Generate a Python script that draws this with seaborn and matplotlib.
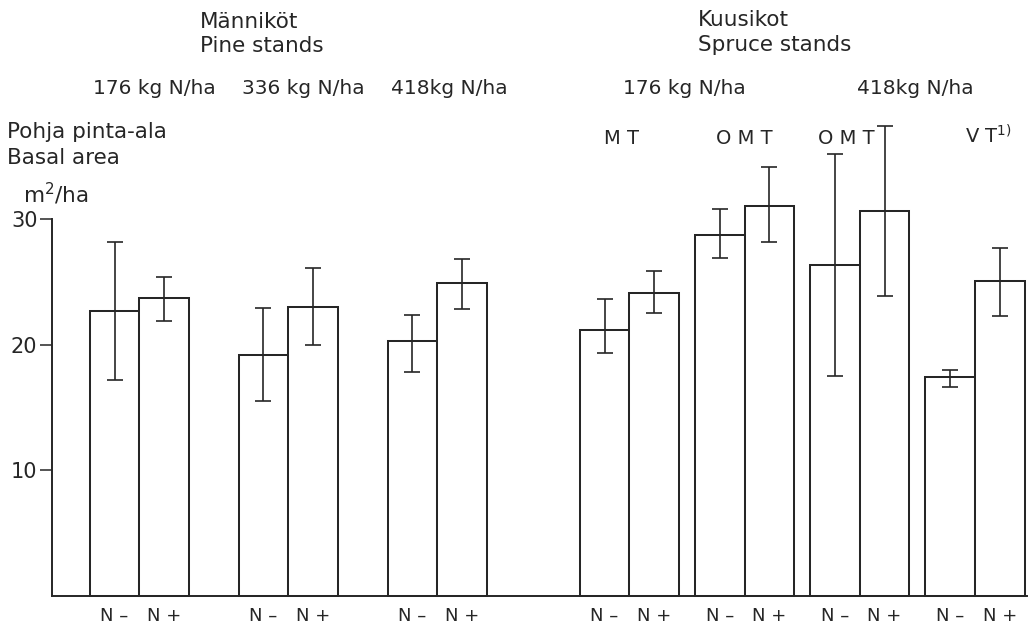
import matplotlib
matplotlib.use("Agg")
import matplotlib.pyplot as plt
import numpy as np
import pandas as pd
import seaborn as sns

sns.set_theme(style="white")
plt.rcParams['font.family'] = ['DejaVu Sans']

# --- data (basal area, m2/ha) ---
pine_means = [22.7, 23.7, 19.2, 23.0, 20.3, 24.9]
pine_upper = [28.2, 25.4, 22.9, 26.1, 22.4, 26.8]
pine_lower = [17.2, 21.9, 15.5, 20.0, 17.8, 22.8]

spruce_means = [21.2, 24.1, 28.7, 31.0, 26.3, 30.6, 17.4, 25.1]
spruce_upper = [23.6, 25.9, 30.8, 34.1, 35.2, 37.4, 18.0, 27.7]
spruce_lower = [19.3, 22.5, 26.9, 28.2, 17.5, 23.9, 16.6, 22.3]

treatments = ["N –", "N +"]
pine_doses = ["176 kg N/ha", "336 kg N/ha", "418kg N/ha"]
spruce_doses = ["176 kg N/ha", "418kg N/ha"]
spruce_sites = ["M T", "O M T", "O M T", "V T$^{1)}$"]

# --- layout: bar slots, one unit = one bar ---
def slots(start, n_groups, gap):
    out = []
    x = start
    for _ in range(n_groups):
        out += [x, x + 1]
        x += 2 + gap
    return out

pos = slots(1.26, 3, 1.0) + slots(11.13, 4, 0.32)
means = pine_means + spruce_means
upper = pine_upper + spruce_upper
lower = pine_lower + spruce_lower
labels = treatments * 7

df = pd.DataFrame({"pos": pos, "value": means})

W, H = 1028, 628
fig = plt.figure(figsize=(W / 100, H / 100), dpi=100)
ax = fig.add_axes([52 / W, 1 - 596 / H, 975 / W, 377 / H])

ink = "#262626"
sns.barplot(data=df, x="pos", y="value", native_scale=True, width=1.0,
            color="white", edgecolor=ink, linewidth=1.45, errorbar=None,
            saturation=1, ax=ax)
for p in ax.patches:
    p.set_clip_on(False)

m = np.array(means)
eb = ax.errorbar(pos, means, yerr=[m - np.array(lower), np.array(upper) - m],
                 fmt="none", ecolor=ink, elinewidth=1.2, capsize=5.5, capthick=1.2)
for art in eb.get_children():
    art.set_clip_on(False)

ax.set_xlim(0, 19.64)
ax.set_ylim(0, 30)
ax.set_yticks([10, 20, 30])
ax.set_xticks(pos, labels)
ax.set_xlabel("")
ax.set_ylabel("")
sns.despine(ax=ax)
for s in ["left", "bottom"]:
    ax.spines[s].set_color(ink)
    ax.spines[s].set_linewidth(1.4)
ax.tick_params(axis="y", direction="out", length=8.5, width=1.1, color=ink,
               labelsize=15, labelcolor=ink, pad=2, left=True)
ax.tick_params(axis="x", length=0, labelsize=13, labelcolor=ink, pad=8)
ax.grid(False)

def ftxt(x, y, s, ha="left", size=15.5):
    fig.text(x / W, 1 - y / H, s, ha=ha, va="baseline", fontsize=size, color=ink)

ftxt(200, 28, "Männiköt")
ftxt(200, 52, "Pine stands")
ftxt(698, 26, "Kuusikot")
ftxt(698, 51, "Spruce stands")

for x, s in zip([154, 303, 449], pine_doses):
    ftxt(x, 94, s, ha="center", size=14.5)
for x, s in zip([684, 915], spruce_doses):
    ftxt(x, 94, s, ha="center", size=14.5)

for x, s in zip([622, 744, 846, 988], spruce_sites):
    ftxt(x, 144, s, ha="center", size=14)

ftxt(7, 138, "Pohja pinta-ala")
ftxt(7, 164, "Basal area")
ftxt(23, 203, "m$^2$/ha")

fig.savefig("out.png", dpi=100, facecolor="white")
